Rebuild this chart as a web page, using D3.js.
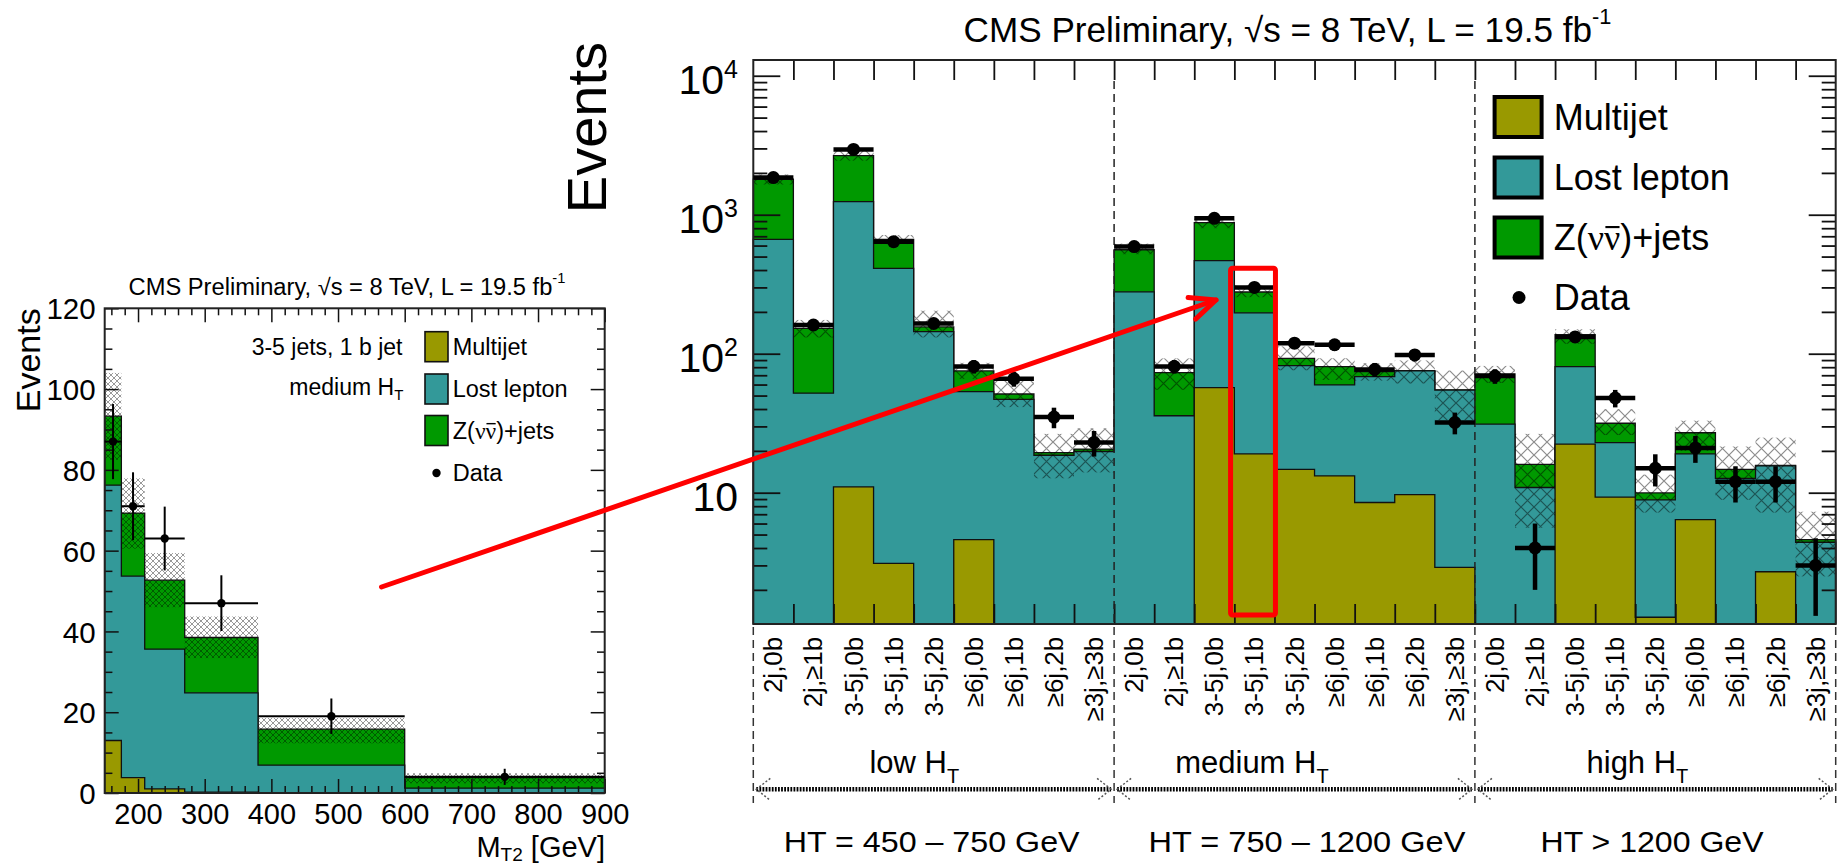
<!DOCTYPE html>
<html>
<head>
<meta charset="utf-8">
<script src="https://cdn.jsdelivr.net/npm/d3@7"></script>
<style>
  body { margin: 0; background: #fff; }
  svg text { font-family: "Liberation Sans", Arial, Helvetica, sans-serif; fill: #000; }
</style>
</head>
<body>
<script>
// ---------------- M_T2 distribution: 3-5 jets, 1 b jet, medium HT ----------------
const mt2Edges      = [150, 175, 210, 270, 380, 600, 900];
const mt2Multijet   = [13, 3.8, 1.0, 0.2, 0, 0];
const mt2LostLepton = [63.2, 49.9, 34.6, 24.6, 6.9, 1.2];
const mt2Znunu      = [17.1, 15.6, 17.1, 13.7, 8.9, 2.6];
const mt2BandLow    = [82.5, 60.5, 46, 33.4, 12.3, 2.4];
const mt2BandHigh   = [104, 77.9, 59.4, 43.7, 18.6, 4.9];
const mt2Data       = [87, 71, 63, 47, 19, 4];
const mt2DataErr    = [9.3, 8.4, 7.9, 6.9, 4.4, 2.0];
const mt2TickLabels = [200, 300, 400, 500, 600, 700, 800, 900];
const eventTickLabels = [0, 20, 40, 60, 80, 100, 120];

// ---------------- Signal-region summary (27 bins) ----------------
const htRegionNames = ["low", "medium", "high"];
const htRangeLabels = ["HT = 450 \u2013 750 GeV", "HT = 750 \u2013 1200 GeV", "HT > 1200 GeV"];
const topologies = ["2j,0b", "2j,\u22651b", "3-5j,0b", "3-5j,1b", "3-5j,2b",
                    "\u22656j,0b", "\u22656j,1b", "\u22656j,2b", "\u22653j,\u22653b"];
const srMultijet   = [0, 0, 11, 3.1, 0, 4.6, 0, 0, 0,
                      0, 0, 57, 19, 14.7, 13.2, 8.5, 9.7, 2.9,
                      0, 0, 22.4, 9.3, 1.27, 6.4, 0, 2.7, 0];
const srLostLepton = [665, 52, 1230, 408, 144, 48.8, 47, 18.6, 19.8,
                      279, 35.8, 410, 178, 67.3, 46.4, 59.9, 65.5, 51.9,
                      31.2, 10.9, 58.3, 13.6, 7.6, 12.6, 12.7, 12.9, 4.4];
const srZnunu      = [1135, 100, 1417, 254, 12, 21.8, 4.3, 0.8, 0.8,
                      281, 37.2, 409, 81, 10.7, 21.1, 5.9, 0.3, 0.2,
                      40.3, 5.1, 56.3, 8.7, 1.1, 8, 2, 0.1, 0.2];
const srBandLow    = [1650, 131, 2450, 615, 131, 66, 41.3, 12.7, 14,
                      520, 55, 800, 255, 76, 64.7, 64, 61, 33.3,
                      61.7, 5.6, 118, 26, 7.2, 20, 8.9, 7.2, 2.5];
const srBandHigh   = [1950, 175, 2880, 715, 204, 86, 64.7, 26.5, 29.1,
                      620, 92.5, 960, 310, 113, 92.7, 85.5, 89.5, 75.7,
                      81.7, 26.5, 150, 40, 13.5, 33, 21.5, 24.9, 7.3];
const srData       = [1850, 161, 2950, 640, 165, 81, 66, 35, 23,
                      590, 81, 942, 300, 119, 116, 77, 98, 32,
                      69, 4, 132, 48, 15, 21, 12, 12, 3];
const srDataErr    = [43, 12.7, 54.3, 25.3, 12.8, 9, 8.1, 5.9, 4.8,
                      24.3, 9, 30.7, 17.3, 10.9, 10.8, 8.8, 9.9, 5.7,
                      8.3, 2, 11.5, 6.9, 3.9, 4.6, 3.5, 3.5, 1.7];
const decadeTicks  = [10, 100, 1000, 10000];

// ---------------- common helpers ----------------
const C_MJ = "#999900", C_LL = "#339999", C_Z = "#009900", C_RED = "#ff0000";
const svg = d3.select("body").append("svg").attr("width", 1839).attr("height", 867);
const defs = svg.append("defs");

function crossHatch(id, s, w, col) {
  const p = defs.append("pattern").attr("id", id)
    .attr("patternUnits", "userSpaceOnUse").attr("width", s).attr("height", s);
  p.append("path").attr("d", `M0,0L${s},${s}M${s},0L0,${s}`)
    .attr("stroke", col).attr("stroke-width", w).attr("fill", "none");
}
crossHatch("hatchL", 6, 0.8, "rgba(0,0,0,0.5)");
crossHatch("hatchR", 13, 1.2, "rgba(0,0,0,0.45)");

// step outline of a histogram given pixel edges and pixel heights
function stepLine(ex, ys, base) {
  let d = `M${ex[0]},${base}`;
  ys.forEach((y, i) => { d += `L${ex[i]},${y}L${ex[i + 1]},${y}`; });
  return d + `L${ex[ex.length - 1]},${base}`;
}
function drawStack(g, ex, layers, base) {
  layers.forEach(l => {
    const d = stepLine(ex, l.ys, base);
    g.append("path").attr("d", d + "Z").attr("fill", l.color).attr("stroke", "none");
    g.append("path").attr("d", d).attr("fill", "none").attr("stroke", "#111").attr("stroke-width", 1.3);
  });
}
// horizontal squeeze/stretch of a text element to a given width, about its x anchor
function fitWidth(sel, w) {
  const n = sel.node(), cur = n.getComputedTextLength();
  const x = +sel.attr("x"), y = +sel.attr("y"), k = w / cur;
  sel.attr("transform", `translate(${x},${y}) scale(${k},1) translate(${-x},${-y})`);
}
function styleAxis(g, width) {
  g.select(".domain").remove();
  g.selectAll(".tick line").attr("stroke", "#111").attr("stroke-width", width);
}
function titleText(g, x, y, size) {
  const t = g.append("text").attr("x", x).attr("y", y).attr("text-anchor", "middle")
    .attr("font-size", size);
  t.append("tspan").text("CMS Preliminary, \u221As = 8 TeV, L = 19.5 fb");
  t.append("tspan").attr("font-size", size * 0.62).attr("dy", -size * 0.5).text("-1");
  return t;
}
// "Z(nu nubar)+jets" written on an alphabetic baseline at y, with a bar over the antineutrino
function znunuLabel(g, x, y, size) {
  const t = g.append("text").attr("x", x).attr("y", y).attr("font-size", size);
  t.append("tspan").text("Z(");
  t.append("tspan").attr("font-family", "'Liberation Serif', 'DejaVu Serif', serif").text("\u03BD\u03BD");
  t.append("tspan").text(")+jets");
  const n = t.node();
  const x0 = n.getStartPositionOfChar(3).x, x1 = n.getEndPositionOfChar(3).x;
  g.append("line").attr("x1", x0 + size * 0.04).attr("x2", x1 - size * 0.02)
    .attr("y1", y - size * 0.64).attr("y2", y - size * 0.64)
    .attr("stroke", "#000").attr("stroke-width", Math.max(1.2, size * 0.06));
}

// =================================================================
// Left panel: M_T2 distribution
// =================================================================
const gL = svg.append("g");
const xL = d3.scaleLinear().domain([150, 900]).range([104.7, 604.7]);
const yL = d3.scaleLinear().domain([0, 120]).range([793, 308.3]);
const baseL = yL(0);
const exL = mt2Edges.map(xL);
const mt2LLTop = mt2Multijet.map((m, i) => m + mt2LostLepton[i]);
const mt2Total = mt2LLTop.map((v, i) => v + mt2Znunu[i]);

drawStack(gL, exL, [
  { ys: mt2Total.map(yL), color: C_Z },
  { ys: mt2LLTop.map(yL), color: C_LL },
  { ys: mt2Multijet.map(yL), color: C_MJ }
], baseL);

// uncertainty band
gL.selectAll("rect.band").data(mt2BandLow).join("rect").attr("class", "band")
  .attr("x", (d, i) => exL[i]).attr("width", (d, i) => exL[i + 1] - exL[i])
  .attr("y", (d, i) => yL(mt2BandHigh[i])).attr("height", (d, i) => yL(d) - yL(mt2BandHigh[i]))
  .attr("fill", "url(#hatchL)");

// axes (ticks drawn inwards on all four sides)
const minorY = d3.range(0, 121, 5).filter(v => v % 20 !== 0);
const minorX = d3.range(160, 900, 20).filter(v => v % 100 !== 0);
gL.append("g").attr("transform", `translate(${xL(150)},0)`)
  .call(d3.axisLeft(yL).tickValues(eventTickLabels).tickSize(-14).tickPadding(9).tickFormat(d3.format("d")))
  .call(g => { styleAxis(g, 1.5); g.selectAll("text").attr("font-size", 29.5).attr("font-family", null).attr("dy", "0.36em"); });
gL.append("g").attr("transform", `translate(${xL(150)},0)`)
  .call(d3.axisLeft(yL).tickValues(minorY).tickSize(-7.7).tickFormat(""))
  .call(g => styleAxis(g, 1.5));
gL.append("g").attr("transform", `translate(${xL(900)},0)`)
  .call(d3.axisRight(yL).tickValues(eventTickLabels).tickSize(-14).tickFormat(""))
  .call(g => styleAxis(g, 1.5));
gL.append("g").attr("transform", `translate(${xL(900)},0)`)
  .call(d3.axisRight(yL).tickValues(minorY).tickSize(-7.7).tickFormat(""))
  .call(g => styleAxis(g, 1.5));
gL.append("g").attr("transform", `translate(0,${baseL})`)
  .call(d3.axisBottom(xL).tickValues(mt2TickLabels).tickSize(-14).tickPadding(10).tickFormat(d3.format("d")))
  .call(g => { styleAxis(g, 1.5); g.selectAll("text").attr("font-size", 29).attr("font-family", null); });
gL.append("g").attr("transform", `translate(0,${baseL})`)
  .call(d3.axisBottom(xL).tickValues(minorX).tickSize(-7).tickFormat(""))
  .call(g => styleAxis(g, 1.5));
gL.append("g").attr("transform", `translate(0,${yL(120)})`)
  .call(d3.axisTop(xL).tickValues(mt2TickLabels).tickSize(-14).tickFormat(""))
  .call(g => styleAxis(g, 1.5));
gL.append("g").attr("transform", `translate(0,${yL(120)})`)
  .call(d3.axisTop(xL).tickValues(minorX).tickSize(-7).tickFormat(""))
  .call(g => styleAxis(g, 1.5));

gL.append("rect").attr("x", xL(150)).attr("y", yL(120))
  .attr("width", xL(900) - xL(150)).attr("height", yL(0) - yL(120))
  .attr("fill", "none").attr("stroke", "#222").attr("stroke-width", 2);

// data
const dL = gL.append("g");
mt2Data.forEach((v, i) => {
  const cx = (exL[i] + exL[i + 1]) / 2;
  dL.append("line").attr("x1", exL[i]).attr("x2", exL[i + 1]).attr("y1", yL(v)).attr("y2", yL(v))
    .attr("stroke", "#000").attr("stroke-width", 2);
  dL.append("line").attr("x1", cx).attr("x2", cx).attr("y1", yL(v + mt2DataErr[i])).attr("y2", yL(v - mt2DataErr[i]))
    .attr("stroke", "#000").attr("stroke-width", 2);
  dL.append("circle").attr("cx", cx).attr("cy", yL(v)).attr("r", 4.2).attr("fill", "#000");
});

// titles
fitWidth(titleText(gL, 347, 295, 23), 437);
gL.append("text").attr("transform", "translate(39.5,308.3) rotate(-90)").attr("text-anchor", "end")
  .attr("font-size", 34).text("Events");
{
  const t = gL.append("text").attr("x", 605).attr("y", 857).attr("text-anchor", "end").attr("font-size", 29);
  t.append("tspan").text("M");
  t.append("tspan").attr("font-size", 19).attr("dy", 4).text("T2");
  t.append("tspan").attr("dy", -4).text(" [GeV]");
}
gL.append("text").attr("x", 402.5).attr("y", 347.3).attr("dominant-baseline", "central")
  .attr("text-anchor", "end").attr("font-size", 23).text("3-5 jets, 1 b jet");
{
  const t = gL.append("text").attr("x", 403.3).attr("y", 386.7).attr("dominant-baseline", "central")
    .attr("text-anchor", "end").attr("font-size", 23);
  t.append("tspan").text("medium H");
  t.append("tspan").attr("font-size", 15).attr("dy", 7).text("T");
}
// legend
const legL = [{ c: C_MJ, t: "Multijet", y: 346.7 }, { c: C_LL, t: "Lost lepton", y: 389 }, { c: C_Z, t: "Z", y: 430.5 }];
legL.forEach(e => {
  gL.append("rect").attr("x", 425).attr("y", e.y - 15).attr("width", 23).attr("height", 30)
    .attr("fill", e.c).attr("stroke", "#111").attr("stroke-width", 1.6);
  if (e.t === "Z") znunuLabel(gL, 452.7, e.y + 8.2, 23.5);
  else gL.append("text").attr("x", 452.7).attr("y", e.y).attr("dominant-baseline", "central").attr("font-size", 23.5).text(e.t);
});
gL.append("circle").attr("cx", 436.5).attr("cy", 473).attr("r", 4.2).attr("fill", "#000");
gL.append("text").attr("x", 452.7).attr("y", 473).attr("dominant-baseline", "central").attr("font-size", 23.5).text("Data");

// =================================================================
// Right panel: all signal regions, log scale
// =================================================================
const gR = svg.append("g");
const nBins = topologies.length * htRegionNames.length;
const xR = d3.scaleLinear().domain([0, nBins]).range([753.3, 1835.7]);
const yR = d3.scaleLog().domain([1.136, 12980]).range([624, 60]);
const baseR = yR.range()[0], topR = yR.range()[1];
const yRc = v => (v > 0 ? Math.min(baseR, Math.max(topR, yR(v))) : baseR);
const exR = d3.range(nBins + 1).map(xR);
const srLLTop = srMultijet.map((m, i) => m + srLostLepton[i]);
const srTotal = srLLTop.map((v, i) => v + srZnunu[i]);

drawStack(gR, exR, [
  { ys: srTotal.map(yRc), color: C_Z },
  { ys: srLLTop.map(yRc), color: C_LL },
  { ys: srMultijet.map(yRc), color: C_MJ }
], baseR);

gR.selectAll("rect.band").data(srBandLow).join("rect").attr("class", "band")
  .attr("x", (d, i) => exR[i]).attr("width", (d, i) => exR[i + 1] - exR[i])
  .attr("y", (d, i) => yRc(srBandHigh[i])).attr("height", (d, i) => yRc(d) - yRc(srBandHigh[i]))
  .attr("fill", "url(#hatchR)");

// ticks
const minorLog = [];
[1, 10, 100, 1000].forEach(d => d3.range(2, 10).forEach(k => {
  const v = k * d; if (v > yR.domain()[0] && v < yR.domain()[1]) minorLog.push(v);
}));
const binEdges = d3.range(1, nBins);
gR.append("g").attr("transform", `translate(${xR(0)},0)`)
  .call(d3.axisLeft(yR).tickValues(decadeTicks).tickSize(-27).tickFormat("")).call(g => styleAxis(g, 1.8));
gR.append("g").attr("transform", `translate(${xR(0)},0)`)
  .call(d3.axisLeft(yR).tickValues(minorLog).tickSize(-14).tickFormat("")).call(g => styleAxis(g, 1.8));
gR.append("g").attr("transform", `translate(${xR(nBins)},0)`)
  .call(d3.axisRight(yR).tickValues(decadeTicks).tickSize(-27).tickFormat("")).call(g => styleAxis(g, 1.8));
gR.append("g").attr("transform", `translate(${xR(nBins)},0)`)
  .call(d3.axisRight(yR).tickValues(minorLog).tickSize(-14).tickFormat("")).call(g => styleAxis(g, 1.8));
gR.append("g").attr("transform", `translate(0,${baseR})`)
  .call(d3.axisBottom(xR).tickValues(binEdges).tickSize(-20).tickFormat("")).call(g => styleAxis(g, 1.8));
gR.append("g").attr("transform", `translate(0,${topR})`)
  .call(d3.axisTop(xR).tickValues(binEdges).tickSize(-20).tickFormat("")).call(g => styleAxis(g, 1.8));

gR.append("rect").attr("x", xR(0)).attr("y", topR).attr("width", xR(nBins) - xR(0)).attr("height", baseR - topR)
  .attr("fill", "none").attr("stroke", "#222").attr("stroke-width", 2);

// region separators
const sepIdx = [9, 18];
sepIdx.forEach(b => gR.append("line").attr("x1", xR(b)).attr("x2", xR(b)).attr("y1", topR + 21).attr("y2", baseR)
  .attr("stroke", "#222").attr("stroke-width", 1.5).attr("stroke-dasharray", "8,5"));
[0, 9, 18, 27].forEach(b => gR.append("line").attr("x1", xR(b)).attr("x2", xR(b)).attr("y1", baseR + 3).attr("y2", 803)
  .attr("stroke", "#333").attr("stroke-width", 1.5).attr("stroke-dasharray", "8,5"));

// data
const dR = gR.append("g");
srData.forEach((v, i) => {
  const cx = (exR[i] + exR[i + 1]) / 2;
  dR.append("line").attr("x1", exR[i]).attr("x2", exR[i + 1]).attr("y1", yR(v)).attr("y2", yR(v))
    .attr("stroke", "#000").attr("stroke-width", 4.5);
  dR.append("line").attr("x1", cx).attr("x2", cx).attr("y1", yRc(v + srDataErr[i])).attr("y2", yRc(v - srDataErr[i]))
    .attr("stroke", "#000").attr("stroke-width", 4.5);
  dR.append("circle").attr("cx", cx).attr("cy", yR(v)).attr("r", 6.5).attr("fill", "#000");
});

// y tick labels 10, 10^2, 10^3, 10^4
decadeTicks.forEach(v => {
  const e = Math.round(Math.log10(v));
  const t = gR.append("text").attr("x", 738).attr("y", yR(v) + 18.5).attr("text-anchor", "end").attr("font-size", 41);
  t.append("tspan").text("10");
  if (e > 1) t.append("tspan").attr("font-size", 25).attr("dy", -16).text(e);
});
// category labels
d3.range(nBins).forEach(i => {
  const cx = (exR[i] + exR[i + 1]) / 2;
  gR.append("text").attr("transform", `translate(${cx},636.7) rotate(-90)`)
    .attr("text-anchor", "end").attr("dominant-baseline", "central").attr("font-size", 26)
    .text(topologies[i % topologies.length]);
});
// HT region names
const regionStart = [869.4, 1175.2, 1586.5];
htRegionNames.forEach((n, r) => {
  const t = gR.append("text").attr("x", regionStart[r]).attr("y", 773.3).attr("font-size", 31);
  t.append("tspan").text(n + " H");
  t.append("tspan").attr("font-size", 20).attr("dy", 10).text("T");
});
// dotted double arrows spanning each HT region
[0, 9, 18].forEach(b => {
  const x0 = xR(b) + 3, x1 = xR(b + 9) - 3, y = 789.3;
  gR.append("line").attr("x1", x0).attr("x2", x1).attr("y1", y).attr("y2", y)
    .attr("stroke", "#000").attr("stroke-width", 4.5).attr("stroke-dasharray", "1.8,1.3");
  [[x0, 1], [x1, -1]].forEach(([x, s]) => {
    gR.append("path").attr("d", `M${x + s * 14},${y - 11}L${x},${y}L${x + s * 14},${y + 11}`)
      .attr("fill", "none").attr("stroke", "#555").attr("stroke-width", 1.5).attr("stroke-dasharray", "2,2");
  });
});
// HT range annotations
const htStart = [783.7, 1148.4, 1540.6], htWidth = [296, 317, 223];
htRangeLabels.forEach((s, r) => {
  fitWidth(gR.append("text").attr("x", htStart[r]).attr("y", 851.7).attr("font-size", 30).text(s), htWidth[r]);
});

// titles
fitWidth(titleText(gR, 1287.5, 41.7, 34.5), 648);
gR.append("text").attr("transform", "translate(606,42) rotate(-90)").attr("text-anchor", "end")
  .attr("font-size", 56).text("Events");

// legend
const legR = [{ c: C_MJ, t: "Multijet", y: 117 }, { c: C_LL, t: "Lost lepton", y: 177.5 }, { c: C_Z, t: "Z", y: 237.5 }];
legR.forEach(e => {
  gR.append("rect").attr("x", 1494.6).attr("y", e.y - 20).attr("width", 47).attr("height", 40)
    .attr("fill", e.c).attr("stroke", "#000").attr("stroke-width", 4);
  if (e.t === "Z") znunuLabel(gR, 1553.7, e.y + 12.6, 36);
  else gR.append("text").attr("x", 1553.7).attr("y", e.y).attr("dominant-baseline", "central").attr("font-size", 36).text(e.t);
});
gR.append("circle").attr("cx", 1519).attr("cy", 297.5).attr("r", 6.5).attr("fill", "#000");
gR.append("text").attr("x", 1553.7).attr("y", 297.5).attr("dominant-baseline", "central").attr("font-size", 36).text("Data");

// =================================================================
// Annotation: arrow from the M_T2 panel to the highlighted bin
// =================================================================
const gA = svg.append("g").attr("stroke", C_RED).attr("fill", "none").attr("stroke-width", 5)
  .attr("stroke-linecap", "round").attr("stroke-linejoin", "round");
const tail = [381.5, 587], tip = [1216, 300];
gA.append("line").attr("x1", tail[0]).attr("y1", tail[1]).attr("x2", tip[0]).attr("y2", tip[1]);
{
  const ang = Math.atan2(tail[1] - tip[1], tail[0] - tip[0]), len = 28, spread = 24 * Math.PI / 180;
  const p1 = [tip[0] + len * Math.cos(ang + spread), tip[1] + len * Math.sin(ang + spread)];
  const p2 = [tip[0] + len * Math.cos(ang - spread), tip[1] + len * Math.sin(ang - spread)];
  gA.append("path").attr("d", `M${p1}L${tip}L${p2}`);
}
const hl = 12; // highlighted bin: medium HT, 3-5j,1b
gA.append("rect").attr("x", xR(hl) - 3.8).attr("y", 268.3)
  .attr("width", xR(hl + 1) - xR(hl) + 4.8).attr("height", 615 - 268.3).attr("rx", 2);
</script>
</body>
</html>
